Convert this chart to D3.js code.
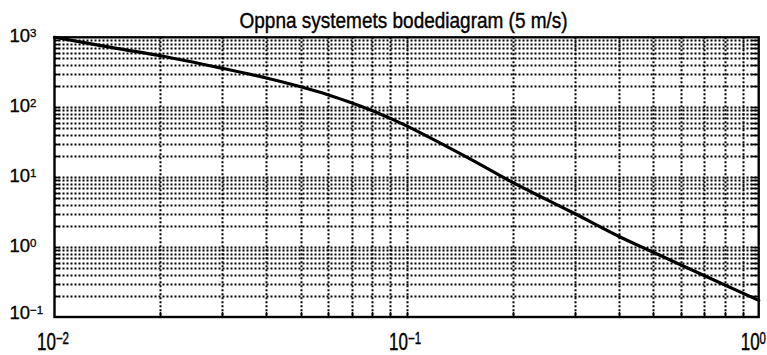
<!DOCTYPE html>
<html>
<head>
<meta charset="utf-8">
<script src="https://cdn.jsdelivr.net/npm/d3@7/dist/d3.min.js"></script>
<style>
  html, body { margin: 0; padding: 0; background: #fff; }
  svg { display: block; }
  text { font-family: "Liberation Sans", Arial, sans-serif; fill: #000; }
</style>
</head>
<body>
<svg id="chart" width="767" height="355"></svg>
<script>
// Open-loop magnitude vs. frequency (log-log)
const freq      = [0.01, 0.015, 0.02, 0.03, 0.04, 0.05, 0.06, 0.07, 0.08, 0.09, 0.1, 0.15, 0.2, 0.25, 0.3, 0.4, 0.5, 1.0];
const magnitude = [1000, 695,   545,  360,  262,  196,  150,  115,  89,   69,   54,   18.7, 8.4, 4.77, 3.02, 1.43, 0.85, 0.173];

const xDecades = [0.01, 0.1, 1];
const yDecades = [0.1, 1, 10, 100, 1000];
const titleText = "Oppna systemets bodediagram (5 m/s)";

const svg = d3.select("#chart");
const W = 767, H = 355;
const plotLeft = 54.5, plotRight = 758.7, plotTop = 37.3, plotBottom = 317;

const x = d3.scaleLog().domain([0.01, 1]).range([plotLeft, plotRight]);
const y = d3.scaleLog().domain([0.1, 1000]).range([plotBottom, plotTop]);

svg.append("rect").attr("width", W).attr("height", H).attr("fill", "#fff");

// minor + decade grid positions (interior only)
const xGrid = [];
for (let d = 0; d < xDecades.length - 1; d++)
  for (let m = 1; m <= 9; m++) {
    const v = xDecades[d] * m;
    if (v > xDecades[0] && v < xDecades[xDecades.length - 1]) xGrid.push(v);
  }
const yGrid = [];
for (let d = 0; d < yDecades.length - 1; d++)
  for (let m = 1; m <= 9; m++) {
    const v = yDecades[d] * m;
    if (v > yDecades[0] && v < yDecades[yDecades.length - 1]) yGrid.push(v);
  }

const px = v => Math.round(x(v)) + 0.5;
const py = v => Math.round(y(v)) + 0.5;

const grid = svg.append("g")
  .attr("stroke", "#000")
  .attr("stroke-width", 2)
  .attr("stroke-dasharray", "2,2");

grid.selectAll("line.h").data(yGrid).join("line")
  .attr("class", "h")
  .attr("x1", plotLeft).attr("x2", plotRight)
  .attr("y1", py).attr("y2", py);

grid.selectAll("line.v").data(xGrid).join("line")
  .attr("class", "v")
  .attr("y1", plotTop).attr("y2", plotBottom)
  .attr("x1", px).attr("x2", px);

// solid tick marks along the frame
const ticks = svg.append("g").attr("stroke", "#000").attr("stroke-width", 1.6);
ticks.selectAll("line.tl").data(yGrid).join("line")
  .attr("class", "tl")
  .attr("x1", plotLeft).attr("x2", plotLeft + 5)
  .attr("y1", py).attr("y2", py);
ticks.selectAll("line.tr").data(yGrid).join("line")
  .attr("class", "tr")
  .attr("x1", plotRight - 8).attr("x2", plotRight)
  .attr("y1", py).attr("y2", py);
ticks.selectAll("line.tb").data(xGrid).join("line")
  .attr("class", "tb")
  .attr("y1", plotBottom - 5).attr("y2", plotBottom)
  .attr("x1", px).attr("x2", px);

// frame
svg.append("rect")
  .attr("x", plotLeft).attr("y", plotTop)
  .attr("width", plotRight - plotLeft).attr("height", plotBottom - plotTop)
  .attr("fill", "none").attr("stroke", "#000").attr("stroke-width", 2.4);

// magnitude curve
const pts = freq.map((f, i) => [x(f), y(magnitude[i])]);
svg.append("path")
  .attr("d", d3.line().curve(d3.curveCatmullRom.alpha(0.5))(pts))
  .attr("fill", "none")
  .attr("stroke", "#000")
  .attr("stroke-width", 3.2)
  .attr("stroke-linejoin", "round")
  .attr("stroke-linecap", "round");

function expOf(v) {
  const e = Math.round(Math.log10(v));
  return (e < 0 ? "\u2212" + (-e) : String(e));
}

// y-axis labels
yDecades.forEach(v => {
  const t = svg.append("text")
    .attr("x", 9.5)
    .attr("y", Math.min(y(v) + 5, 319))
    .attr("font-size", 18.5)
    .attr("stroke", "#000").attr("stroke-width", 0.3);
  t.append("tspan").text("10");
  t.append("tspan").attr("font-size", 11.5).attr("dy", -5).text(expOf(v));
});

// x-axis labels (tall, narrow figures)
xDecades.forEach(v => {
  const g = svg.append("g");
  const t = g.append("text")
    .attr("text-anchor", "middle")
    .attr("font-size", 17)
    .attr("stroke", "#000").attr("stroke-width", 0.3);
  t.append("tspan").text("10");
  t.append("tspan").attr("font-size", 11.5).attr("dy", -4.2).text(expOf(v));
  const w = t.node().getComputedTextLength();
  let cx = x(v) - 1.5;
  if (cx + w / 2 > W - 1) cx = W - 1 - w / 2;
  g.attr("transform", `translate(${cx},350) scale(1,1.42)`);
});

// title
svg.append("text")
  .attr("transform", `translate(${(plotLeft + plotRight) / 2 - 3},28) scale(1,1.12)`)
  .attr("text-anchor", "middle")
  .attr("font-size", 19)
  .attr("stroke", "#000").attr("stroke-width", 0.35)
  .text(titleText);
</script>
</body>
</html>
